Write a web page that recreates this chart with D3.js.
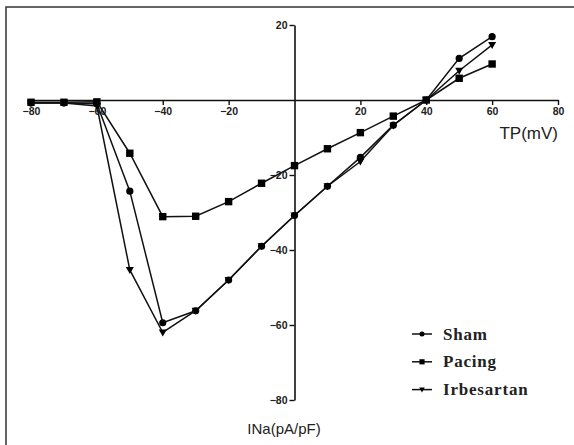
<!DOCTYPE html>
<html>
<head>
<meta charset="utf-8">
<script src="https://cdn.jsdelivr.net/npm/d3@7"></script>
<style>
  body { margin: 0; background: #fff; }
  #chart svg { display: block; }
  .tick text { font-family: "Liberation Sans", Arial, sans-serif; font-weight: bold; font-size: 10.5px; fill: #222; }
</style>
</head>
<body>
<div id="chart"></div>
<script>
const voltages = [-80, -70, -60, -50, -40, -30, -20, -10, 0, 10, 20, 30, 40, 50, 60];
const sham = [-0.8, -0.8, -1, -24.3, -59.4, -56.2, -48, -39, -30.8, -23, -15.3, -6.7, 0, 11.1, 16.9];
const pacing = [-0.6, -0.6, -0.5, -14.2, -31.1, -31, -27.1, -22.2, -17.5, -13, -8.7, -4.3, 0, 5.8, 9.6];
const irbesartan = [-0.8, -0.8, -1.6, -45.3, -62, -56.2, -48, -39, -30.8, -23, -16.4, -6.8, 0, 7.8, 14.7];
const xTicks = [-80, -60, -40, -20, 20, 40, 60, 80];
const yTicks = [20, -20, -40, -60, -80];
const seriesNames = ['Sham', 'Pacing', 'Irbesartan'];

const width = 574, height = 445;

const svg = d3.select('#chart')
              .append('svg')
              .attr('width', width)
              .attr('height', height);

// frame
svg.append('rect')
   .attr('x', 6).attr('y', 7)
   .attr('width', 620).attr('height', 500)
   .attr('fill', 'none')
   .attr('stroke', '#333')
   .attr('stroke-width', 1.5);

const xScale = d3.scaleLinear().domain([-80, 80]).range([31, 558]);
const yScale = d3.scaleLinear().domain([-80, 20]).range([400, 25]);

const xAxis = d3.axisBottom(xScale).tickValues(xTicks).tickSize(5).tickSizeOuter(0).tickPadding(3);
const yAxis = d3.axisLeft(yScale).tickValues(yTicks).tickSize(5).tickSizeOuter(0).tickPadding(2);

const gx = svg.append('g')
   .attr('transform', `translate(0, ${yScale(0)})`)
   .call(xAxis);

const gy = svg.append('g')
   .attr('transform', `translate(${xScale(0)}, 0)`)
   .call(yAxis);

[gx, gy].forEach(g => {
  g.select('.domain').attr('stroke', '#111').attr('stroke-width', 1.6);
  g.selectAll('.tick line').attr('stroke', '#111').attr('stroke-width', 1.4);
});

svg.append('text')
   .attr('x', 558).attr('y', 139)
   .attr('text-anchor', 'end')
   .attr('font-family', '"Liberation Sans", Arial, sans-serif')
   .attr('font-size', 17)
   .attr('fill', '#222')
   .text('TP(mV)');

svg.append('text')
   .attr('x', 284).attr('y', 434)
   .attr('text-anchor', 'middle')
   .attr('font-family', '"Liberation Sans", Arial, sans-serif')
   .attr('font-size', 15)
   .attr('fill', '#222')
   .text('INa(pA/pF)');

const series = [sham, pacing, irbesartan];

const line = d3.line()
               .x((d, i) => xScale(voltages[i]))
               .y(d => yScale(d));

function drawMarker(g, type, x, y, s = 1) {
  if (type === 0) {
    g.append('circle').attr('cx', x).attr('cy', y).attr('r', 3.6 * s).attr('fill', '#000');
  } else if (type === 1) {
    const h = 3.7 * s;
    g.append('rect').attr('x', x - h).attr('y', y - h).attr('width', 2 * h).attr('height', 2 * h).attr('fill', '#000');
  } else {
    g.append('path')
     .attr('d', `M${x - 4 * s},${y - 3 * s} L${x + 4 * s},${y - 3 * s} L${x},${y + 4 * s} Z`)
     .attr('fill', '#000');
  }
}

series.forEach((vals, k) => {
  svg.append('path')
     .datum(vals)
     .attr('d', line)
     .attr('fill', 'none')
     .attr('stroke', '#111')
     .attr('stroke-width', 1.5);
  const g = svg.append('g');
  vals.forEach((v, i) => drawMarker(g, k, xScale(voltages[i]), yScale(v)));
});

// legend
const legend = svg.append('g');
seriesNames.forEach((name, k) => {
  const y = 334 + k * 27.8;
  legend.append('line')
        .attr('x1', 412).attr('x2', 432)
        .attr('y1', y).attr('y2', y)
        .attr('stroke', '#111').attr('stroke-width', 1.5);
  drawMarker(legend, k, 422, y, 0.7);
  legend.append('text')
        .attr('x', 443).attr('y', y + 5.5)
        .attr('font-family', '"Liberation Serif", "Times New Roman", serif')
        .attr('font-weight', 'bold')
        .attr('font-size', 17)
        .attr('letter-spacing', 0.8)
        .attr('fill', '#222')
        .text(name);
});
</script>
</body>
</html>
